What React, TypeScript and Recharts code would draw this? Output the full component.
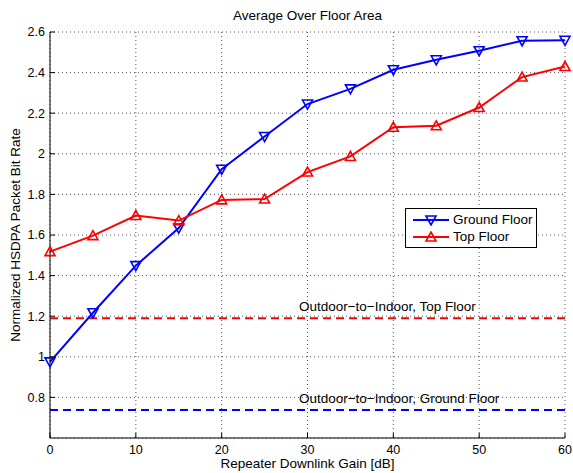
import React from 'react';
import { LineChart, Line, XAxis, YAxis, CartesianGrid, ReferenceLine } from 'recharts';

const gains = [0, 5, 10, 15, 20, 25, 30, 35, 40, 45, 50, 55, 60];
const groundFloor = [0.975, 1.217, 1.449, 1.634, 1.924, 2.085, 2.245, 2.32, 2.414, 2.463, 2.508, 2.557, 2.559];
const topFloor = [1.518, 1.597, 1.696, 1.671, 1.773, 1.777, 1.91, 1.987, 2.131, 2.138, 2.228, 2.378, 2.43];
const outdoorTopFloor = 1.19;
const outdoorGroundFloor = 0.738;
const annotationX = 29;
const xTicks = [0, 10, 20, 30, 40, 50, 60];
const yTicks = [0.8, 1.0, 1.2, 1.4, 1.6, 1.8, 2.0, 2.2, 2.4, 2.6];
const xDomain = [0, 60];
const yDomain = [0.6, 2.6];

const FONT = '"Liberation Sans", Arial, Helvetica, sans-serif';
const BLUE = '#0000ff';
const RED = '#ff0000';

const data = gains.map((g, i) => ({ gain: g, ground: groundFloor[i], top: topFloor[i] }));

const fmt = (v: number) => String(Number(v.toFixed(1)));

const TriDown = (props: any) => {
  const { cx, cy, stroke } = props;
  if (cx == null || cy == null) return null;
  return (
    <polygon
      points={`${cx - 5},${cy - 4} ${cx + 5},${cy - 4} ${cx},${cy + 5}`}
      fill="none"
      stroke={stroke}
      strokeWidth={1.6}
    />
  );
};

const TriUp = (props: any) => {
  const { cx, cy, stroke } = props;
  if (cx == null || cy == null) return null;
  return (
    <polygon
      points={`${cx - 5},${cy + 4} ${cx + 5},${cy + 4} ${cx},${cy - 5}`}
      fill="none"
      stroke={stroke}
      strokeWidth={1.6}
    />
  );
};

const refLabel = (text: string) => (props: any) => {
  const vb = props.viewBox || {};
  const x = vb.x + (vb.width * (annotationX - xDomain[0])) / (xDomain[1] - xDomain[0]);
  return (
    <text x={x} y={vb.y - 7} fontFamily={FONT} fontSize={13.5} fill="#000" textAnchor="start">
      {text}
    </text>
  );
};

const LegendIcon = ({ color, down }: { color: string; down: boolean }) => (
  <svg width={36} height={12} style={{ display: 'block' }}>
    <line x1={0} y1={6} x2={36} y2={6} stroke={color} strokeWidth={2} />
    {down ? (
      <polygon points="13,2 23,2 18,11" fill="none" stroke={color} strokeWidth={1.6} />
    ) : (
      <polygon points="13,10 23,10 18,1" fill="none" stroke={color} strokeWidth={1.6} />
    )}
  </svg>
);

const LegendBox = () => (
  <div
    style={{
      position: 'absolute',
      left: 405,
      top: 208,
      border: '1px solid #000',
      background: '#fff',
      width: 132,
      height: 40,
      boxSizing: 'border-box',
      fontFamily: FONT,
      fontSize: 13.5,
      color: '#000',
      paddingLeft: 7,
      paddingTop: 2,
    }}
  >
    <div style={{ display: 'flex', alignItems: 'center', height: 17 }}>
      <LegendIcon color={BLUE} down={true} />
      <span style={{ marginLeft: 4 }}>Ground Floor</span>
    </div>
    <div style={{ display: 'flex', alignItems: 'center', height: 17 }}>
      <LegendIcon color={RED} down={false} />
      <span style={{ marginLeft: 4 }}>Top Floor</span>
    </div>
  </div>
);

export default function App() {
  const tickStyle = { fontFamily: FONT, fontSize: 12.5, fill: '#000' };
  return (
    <div style={{ position: 'fixed', left: 0, top: 0, width: 573, height: 473, background: '#fff' }}>
      <div
        style={{
          position: 'absolute',
          left: 50,
          width: 515,
          top: 8,
          textAlign: 'center',
          fontFamily: FONT,
          fontSize: 13.5,
          lineHeight: '16px',
          color: '#000',
        }}
      >
        Average Over Floor Area
      </div>
      <LineChart
        width={573}
        height={473}
        data={data}
        margin={{ top: 32, right: 8, bottom: 5, left: 10 }}
        style={{ position: 'absolute', left: 0, top: 0 }}
      >
        <CartesianGrid stroke="#555" strokeDasharray="1 3" strokeWidth={1} />
        <XAxis
          dataKey="gain"
          type="number"
          domain={xDomain}
          ticks={xTicks}
          height={30}
          stroke="#000"
          tickSize={-5}
          tickMargin={12}
          tick={tickStyle}
          axisLine={{ stroke: '#000', strokeWidth: 1 }}
          label={{
            value: 'Repeater Downlink Gain [dB]',
            position: 'insideBottom',
            offset: 0,
            style: { fontFamily: FONT, fontSize: 13.5, fill: '#000' },
          }}
        />
        <XAxis
          xAxisId="top"
          orientation="top"
          dataKey="gain"
          type="number"
          domain={xDomain}
          ticks={xTicks}
          height={0}
          stroke="#000"
          tickSize={-5}
          tickFormatter={() => ''}
        />
        <YAxis
          type="number"
          domain={yDomain}
          ticks={yTicks}
          width={40}
          stroke="#000"
          tickSize={-5}
          tickMargin={10}
          tick={tickStyle}
          tickFormatter={fmt}
          label={{
            value: 'Normalized HSDPA Packet Bit Rate',
            angle: -90,
            position: 'insideLeft',
            offset: 5,
            style: { textAnchor: 'middle', fontFamily: FONT, fontSize: 13.5, fill: '#000' },
          }}
        />
        <YAxis
          yAxisId="right"
          orientation="right"
          type="number"
          domain={yDomain}
          ticks={yTicks}
          width={0}
          stroke="#000"
          tickSize={-5}
          tickFormatter={() => ''}
        />
        <ReferenceLine
          y={outdoorTopFloor}
          stroke={RED}
          strokeWidth={2}
          strokeDasharray="8 5"
          label={refLabel('Outdoor\u2212to\u2212Indoor, Top Floor')}
        />
        <ReferenceLine
          y={outdoorGroundFloor}
          stroke={BLUE}
          strokeWidth={2}
          strokeDasharray="8 5"
          label={refLabel('Outdoor\u2212to\u2212Indoor, Ground Floor')}
        />
        <Line
          dataKey="ground"
          name="Ground Floor"
          stroke={BLUE}
          strokeWidth={2}
          dot={<TriDown />}
          activeDot={false}
          isAnimationActive={false}
        />
        <Line
          dataKey="top"
          name="Top Floor"
          stroke={RED}
          strokeWidth={2}
          dot={<TriUp />}
          activeDot={false}
          isAnimationActive={false}
        />
      </LineChart>
      <LegendBox />
    </div>
  );
}
